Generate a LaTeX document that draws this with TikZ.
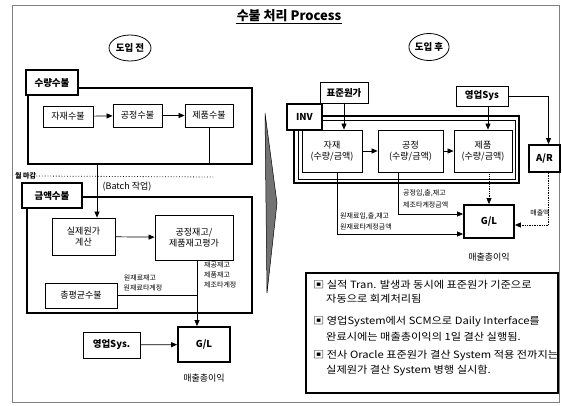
\documentclass[tikz,border=0pt]{standalone}
\usepackage{fontspec}
\setmainfont{Noto Sans CJK KR}
\newfontfamily\notefont[FakeStretch=1.12]{Noto Sans CJK KR}
\usetikzlibrary{arrows.meta,shapes.geometric}
\begin{document}
\begin{tikzpicture}[x=1pt,y=-1pt,
  box/.style={draw, line width=0.8pt, inner sep=1pt, align=center, font=\fontsize{9}{11}\selectfont},
  tbox/.style={draw, line width=1.8pt, inner sep=1pt, align=center, font=\fontsize{9.5}{11}\selectfont\bfseries},
  lbox/.style={draw, line width=0.8pt, inner sep=1pt, align=center, font=\fontsize{9.5}{11}\selectfont\bfseries},
  frame/.style={line width=1.8pt},
  inframe/.style={line width=0.5pt},
  conn/.style={line width=0.7pt},
  arr/.style={conn, -{Triangle[length=6pt,width=5pt]}},
  darr/.style={arr, densely dotted},
  small/.style={font=\fontsize{7}{8}\selectfont, inner sep=0, align=left},
  oval/.style={draw, ellipse, line width=0.8pt, inner sep=0, font=\fontsize{9.5}{11}\selectfont\bfseries},
  note/.style={font=\notefont\fontsize{10}{11}\selectfont, inner sep=0, anchor=west},
  plain/.style={font=\fontsize{9}{11}\selectfont, inner sep=0}
]
\useasboundingbox (0,0) rectangle (562,405);
\draw[gray, line width=0.6pt] (12,5) rectangle (559,402);

% title
\node[font=\fontsize{13}{15}\selectfont\bfseries, inner sep=1pt] (title) at (289,16) {수불 처리 Process};
\draw[line width=0.8pt] (title.south west) -- (title.south east);

% ovals
\node[oval, minimum width=42pt, minimum height=26pt] (before) at (130,48) {도입 전};
\node[oval, minimum width=40pt, minimum height=27pt] (after) at (429,47) {도입 후};

% ---------- left side ----------
\node[tbox, minimum width=52pt, minimum height=25pt] (sulyang) at (52,82.5) {수량수불};
\draw[frame] (78,88) -- (252,88) -- (252,164) -- (28,164) -- (28,95);

\node[box, minimum width=50pt, minimum height=21pt] (jajaesb) at (68,116.5) {자재수불};
\node[box, minimum width=49pt, minimum height=23pt] (gongsb) at (137.5,115.5) {공정수불};
\node[box, minimum width=48pt, minimum height=23pt] (jepumsb) at (209,115.5) {제품수불};
\draw[arr] (jajaesb) -- (gongsb);
\draw[arr] (gongsb) -- (jepumsb);

\node[font=\fontsize{7}{8}\selectfont\bfseries, inner sep=0, anchor=west] (wol) at (15,176) {월 마감};
\draw[line width=0.8pt, dotted] (wol.east) -- (213,177);
\node[plain] (batch) at (127,187) {(Batch 작업)};

\node[tbox, minimum width=60pt, minimum height=25pt] (geumaek) at (52,195.5) {금액수불};
\draw[frame] (82,197) -- (252,197) -- (252,313) -- (27,313) -- (27,208);

\node[box, minimum width=63pt, minimum height=37pt] (silje) at (83.5,236.5) {실제원가\\계산};
\node[box, minimum width=78pt, minimum height=45pt] (gongjae) at (194,237.5) {공정재고/\\제품재고평가};
\draw[arr] (jepumsb.south) -- ++(0,37) -| ([xshift=13.5pt]silje.north);
\draw[arr] (silje) -- (gongjae);

\node[box, minimum width=72pt, minimum height=25pt] (chong) at (81,295.5) {총평균수불};
\node[tbox, minimum width=52pt, minimum height=35pt] (gl1) at (204,344.5) {G/L};
\node[lbox, minimum width=57pt, minimum height=26pt] (sales1) at (111.5,345) {영업Sys.};
\draw[arr] ([xshift=3pt]gongjae.south) -- ([xshift=3pt]gongjae.south |- gl1.north);
\draw[conn] (chong.east) -- ([xshift=3pt]gongjae.south |- chong.east);
\draw[arr] (sales1) -- (gl1);

\node[small] (lab1) at (140,278) {원재료재고};
\node[small] (lab2) at (143,288) {원재료타계정};
\node[small, anchor=west] (lab3) at (204,265) {재공재고};
\node[small, anchor=west] (lab4) at (204,275) {제품재고};
\node[small, anchor=west] (lab5) at (204,285) {제조타계정};
\node[plain] (gross1) at (204,378) {매출총이익};

% separator chevron
\filldraw[fill=black!55, draw=black, line width=0.5pt] (265,113) -- (277,203) -- (267,293) -- cycle;

% ---------- right side ----------
\node[lbox, minimum width=48pt, minimum height=21pt] (pyojun) at (344,92.5) {표준원가};
\node[lbox, minimum width=52pt, minimum height=20pt] (sales2) at (482,96) {영업Sys};
\draw[frame] (322,116) -- (519,116) -- (519,183) -- (294,183) -- (294,130);
\draw[inframe] (322,120) -- (515,120) -- (515,179) -- (298,179) -- (298,130);
\node[tbox, fill=white, minimum width=35pt, minimum height=26pt] (inv) at (304.5,117) {INV};

\node[box, minimum width=60pt, minimum height=42pt] (jajae2) at (332,151) {자재\\(수량/금액)};
\node[box, minimum width=65pt, minimum height=42pt] (gong2) at (410.5,151) {공정\\(수량/금액)};
\node[box, minimum width=58pt, minimum height=42pt] (jepum2) at (483,151) {제품\\(수량/금액)};
\draw[arr] (jajae2) -- (gong2);
\draw[arr] (gong2) -- (jepum2);
\draw[arr] (pyojun.south) -- (pyojun.south |- jajae2.north);
\draw[arr] ([xshift=6pt]sales2.south) -- ([xshift=6pt]sales2.south |- jepum2.north);

\node[tbox, minimum width=31pt, minimum height=27pt] (ar) at (544.5,158.5) {A/R};
\draw[arr] (sales2.east) -| ([xshift=4pt]ar.north);

\node[tbox, minimum width=50pt, minimum height=33pt] (gl2) at (489,221.5) {G/L};
\node[plain] (gross2) at (489,257) {매출총이익};
\draw[darr] (gl2.north |- jepum2.south) -- (gl2.north);
\draw[darr] ([xshift=4pt]ar.south) |- ([yshift=-3.5pt]gl2.east);
\node[small] (lab6) at (540,213) {매출액};
\draw[arr] ([xshift=-12.5pt]gong2.south) |- ([yshift=7.5pt]gl2.west);
\draw[arr] ([xshift=5pt]jajae2.south) |- ([yshift=-12.5pt]gl2.west);
\node[small, anchor=west] (lab7) at (403,193) {공정입,출,재고};
\node[small, anchor=west] (lab8) at (403,205) {제조타계정금액};
\node[small, anchor=west] (lab9) at (340,216) {원재료입,출,재고};
\node[small, anchor=west] (lab10) at (340,227) {원재료타계정금액};

% ---------- notes ----------
\draw[line width=1.2pt] (306,273) rectangle (558,393);
\node[note] (n1) at (313,285) {▣ 실적 Tran. 발생과 동시에 표준원가 기준으로};
\node[note] (n2) at (326,299) {자동으로 회계처리됨};
\node[note] (n3) at (313,322) {▣ 영업System에서 SCM으로 Daily Interface를};
\node[note] (n4) at (326,337) {완료시에는 매출총이익의 1일 결산 실행됨.};
\node[note] (n5) at (313,356) {▣ 전사 Oracle 표준원가 결산 System 적용 전까지는};
\node[note] (n6) at (326,370) {실제원가 결산 System 병행 실시함.};
\end{tikzpicture}
\end{document}
